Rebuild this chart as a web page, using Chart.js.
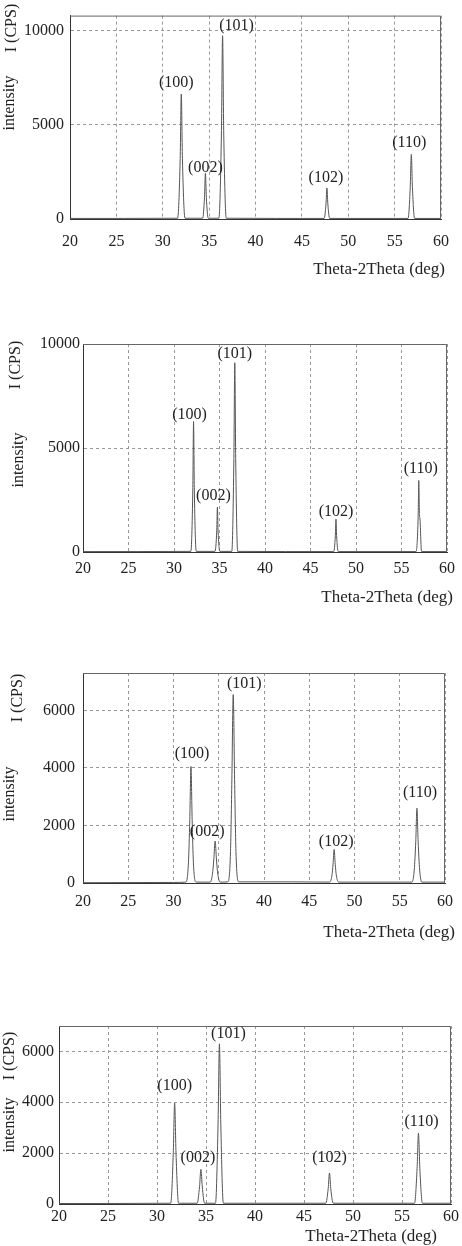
<!DOCTYPE html>
<html lang="en">
  <head>
    <meta charset="UTF-8" />
    <title>XRD patterns</title>
    <script src="https://cdn.jsdelivr.net/npm/chart.js"></script>
    <style>
      * {
        margin: 0;
        padding: 0;
        box-sizing: border-box;
      }
      body {
        background: #ffffff;
        width: 462px;
        height: 1246px;
        position: relative;
        overflow: hidden;
      }
      canvas {
        position: absolute;
        left: 0;
      }
    </style>
  </head>
  <body>
    <canvas id="xrd1" width="462" height="300" style="top: 0px"></canvas>
    <canvas id="xrd2" width="462" height="300" style="top: 320px"></canvas>
    <canvas id="xrd3" width="462" height="310" style="top: 640px"></canvas>
    <canvas id="xrd4" width="462" height="286" style="top: 960px"></canvas>

    <script>
      // peak names, same order in every pattern
      const peakNames = ["(100)", "(002)", "(101)", "(102)", "(110)"];
      const thetaTicks = [20, 25, 30, 35, 40, 45, 50, 55, 60];

      // pattern 1
      const theta1 = [20, 31.6, 31.88, 32.0, 32.12, 32.4, 34.3, 34.5, 34.6, 34.7, 34.9, 36.05, 36.33, 36.45, 36.57, 36.85, 47.4, 47.6, 47.7, 47.8, 48.0, 56.45, 56.68, 56.8, 56.92, 57.15, 60];
      const counts1 = [30, 40, 3200, 6630, 3200, 40, 40, 1150, 2420, 1150, 40, 40, 4700, 9730, 4700, 40, 30, 800, 1650, 800, 30, 30, 1650, 3430, 1650, 30, 30];
      const peakTheta1 = [32.0, 34.6, 36.45, 47.7, 56.8];
      const peakCounts1 = [6630, 2420, 9730, 1650, 3430];
      const countTicks1 = [0, 5000, 10000];

      // pattern 2
      const theta2 = [20, 31.85, 32.07, 32.15, 32.23, 32.45, 34.5, 34.7, 34.77, 34.84, 35.05, 36.35, 36.58, 36.68, 36.78, 37.0, 47.55, 47.73, 47.8, 47.87, 48.05, 56.6, 56.83, 56.9, 56.97, 57.02, 57.2, 60];
      const counts2 = [20, 30, 3100, 6270, 3100, 30, 30, 1050, 2160, 1050, 30, 30, 4500, 9100, 4500, 30, 20, 780, 1580, 780, 20, 20, 1700, 3440, 1800, 1650, 20, 20];
      const peakTheta2 = [32.15, 34.77, 36.68, 47.8, 56.9];
      const peakCounts2 = [6270, 2160, 9100, 1580, 3440];
      const countTicks2 = [0, 5000, 10000];

      // pattern 3 (broader peaks)
      const theta3 = [20, 30, 31.35, 31.65, 31.8, 31.93, 32.06, 32.2, 32.5, 34.05, 34.3, 34.45, 34.6, 34.75, 34.9, 35.15, 36.0, 36.3, 36.45, 36.6, 36.75, 36.9, 37.2, 43, 47.25, 47.5, 47.63, 47.75, 47.87, 48.0, 48.25, 56.35, 56.6, 56.77, 56.9, 57.03, 57.2, 57.45, 60];
      const counts3 = [10, 20, 30, 700, 2200, 4050, 2200, 700, 30, 30, 300, 800, 1455, 800, 300, 30, 40, 1100, 3600, 6550, 3600, 1100, 40, 40, 30, 250, 650, 1165, 650, 250, 30, 30, 450, 1450, 2600, 1450, 450, 30, 30];
      const peakTheta3 = [31.93, 34.6, 36.6, 47.75, 56.9];
      const peakCounts3 = [4050, 1455, 6550, 1165, 2600];
      const countTicks3 = [0, 2000, 4000, 6000];

      // pattern 4
      const theta4 = [20, 31.4, 31.66, 31.8, 31.94, 32.2, 34.1, 34.34, 34.48, 34.62, 34.85, 35.97, 36.23, 36.37, 36.51, 36.77, 47.22, 47.47, 47.6, 47.73, 47.98, 56.28, 56.54, 56.68, 56.82, 57.08, 60];
      const counts4 = [20, 30, 2000, 3970, 2000, 30, 30, 680, 1360, 680, 30, 30, 3150, 6300, 3150, 30, 30, 610, 1220, 610, 30, 30, 1400, 2790, 1400, 30, 30];
      const peakTheta4 = [31.8, 34.48, 36.37, 47.6, 56.68];
      const peakCounts4 = [3970, 1360, 6300, 1220, 2790];
      const countTicks4 = [0, 2000, 4000, 6000];

      const serif = '"Liberation Serif", "DejaVu Serif", serif';
      const ink = "#222";

      function drawPattern(id, p) {
        const canvas = document.getElementById(id);
        const H = canvas.height;
        new Chart(canvas, {
          type: "line",
          data: {
            datasets: [
              {
                data: p.theta.map((t, i) => ({ x: t, y: p.counts[i] })),
                borderColor: "#555",
                borderWidth: 1,
                pointRadius: 0,
                cubicInterpolationMode: "monotone",
              },
            ],
          },
          options: {
            responsive: false,
            animation: false,
            layout: {
              padding: { top: p.area.top, right: 462 - p.area.right, left: 0, bottom: 0 },
            },
            plugins: { legend: { display: false }, tooltip: { enabled: false } },
            scales: {
              x: {
                type: "linear",
                min: 20,
                max: 60,
                afterBuildTicks: (s) => {
                  s.ticks = thetaTicks.map((v) => ({ value: v }));
                },
                ticks: {
                  padding: p.xPad,
                  maxRotation: 0,
                  autoSkip: false,
                  color: ink,
                  font: { family: serif, size: 16 },
                },
                grid: { color: "#999", drawTicks: false },
                border: { color: "#333", dash: [3, 3] },
                afterFit: (s) => {
                  s.height = H - p.area.bottom;
                },
              },
              y: {
                min: 0,
                max: p.yMax,
                afterBuildTicks: (s) => {
                  s.ticks = p.yTicks.map((v) => ({ value: v }));
                },
                ticks: {
                  padding: p.yPad,
                  autoSkip: false,
                  color: ink,
                  font: { family: serif, size: 16 },
                  callback: (v) => String(v),
                },
                grid: { color: "#999", drawTicks: false },
                border: { color: "#333", dash: [3, 3] },
                afterFit: (s) => {
                  s.width = p.area.left;
                },
              },
            },
          },
          plugins: [
            {
              id: "xrdText",
              afterDraw(chart) {
                const c = chart.ctx;
                const a = chart.chartArea;
                const xs = chart.scales.x;
                const ys = chart.scales.y;
                c.save();
                // top and right frame
                c.strokeStyle = "#666";
                c.lineWidth = 1;
                c.beginPath();
                c.moveTo(a.left, a.top + 0.5);
                c.lineTo(a.right - 0.5, a.top + 0.5);
                c.lineTo(a.right - 0.5, a.bottom);
                c.stroke();

                c.fillStyle = ink;
                c.font = "16px " + serif;
                c.textAlign = "center";
                c.textBaseline = "middle";
                peakNames.forEach((name, i) => {
                  const px = xs.getPixelForValue(p.peakTheta[i]) + p.labelDx[i];
                  const py = ys.getPixelForValue(p.peakCounts[i]) - p.labelDy[i];
                  c.fillText(name, px, py);
                });

                // x axis title, right aligned
                c.font = "17px " + serif;
                c.textAlign = "right";
                c.fillText("Theta-2Theta (deg)", p.xTitle[0], p.xTitle[1]);

                // y axis title in two pieces
                c.font = "16px " + serif;
                c.textAlign = "center";
                [["I (CPS)", p.cps], ["intensity", p.inten]].forEach(([txt, pos]) => {
                  c.save();
                  c.translate(pos[0], pos[1]);
                  c.rotate(-Math.PI / 2);
                  c.fillText(txt, 0, 0);
                  c.restore();
                });
                c.restore();
              },
            },
          ],
        });
      }

      drawPattern("xrd1", {
        theta: theta1, counts: counts1, peakTheta: peakTheta1, peakCounts: peakCounts1,
        yMax: 10800, yTicks: countTicks1,
        area: { left: 70, right: 455, top: 7, bottom: 219 },
        xPad: 13, yPad: 6,
        labelDx: [-5, 0, 14, -1, -2], labelDy: [11, 6, 10, 10, 12],
        xTitle: [445, 270], cps: [12, 28], inten: [10, 103],
      });
      drawPattern("xrd2", {
        theta: theta2, counts: counts2, peakTheta: peakTheta2, peakCounts: peakCounts2,
        yMax: 10000, yTicks: countTicks2,
        area: { left: 83, right: 453, top: 24, bottom: 232 },
        xPad: 7, yPad: 3,
        labelDx: [-4, -4, 0, 0, 2], labelDy: [7, 11, 9, 7, 12],
        xTitle: [453, 278], cps: [16, 45], inten: [19, 140],
      });
      drawPattern("xrd3", {
        theta: theta3, counts: counts3, peakTheta: peakTheta3, peakCounts: peakCounts3,
        yMax: 7300, yTicks: countTicks3,
        area: { left: 83, right: 455, top: 33, bottom: 243 },
        xPad: 9, yPad: 8,
        labelDx: [1, -8, 11, 2, 3], labelDy: [13, 9, 11, 8, 15],
        xTitle: [455, 293], cps: [18, 58], inten: [10, 154],
      });
      drawPattern("xrd4", {
        theta: theta4, counts: counts4, peakTheta: peakTheta4, peakCounts: peakCounts4,
        yMax: 7000, yTicks: countTicks4,
        area: { left: 59, right: 452, top: 66, bottom: 244 },
        xPad: 3, yPad: 5,
        labelDx: [0, -3, 9, 0, 3], labelDy: [17, 12, 10, 15, 11],
        xTitle: [437, 277], cps: [10, 96], inten: [10, 165],
      });
    </script>
  </body>
</html>
